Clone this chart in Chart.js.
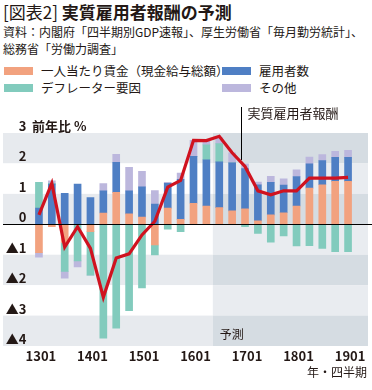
<!DOCTYPE html>
<html>
<head>
<meta charset="utf-8">
<script src="https://cdn.jsdelivr.net/npm/chart.js@4"></script>
<style>
body{margin:0;width:372px;height:390px;background:#fff;position:relative;overflow:hidden;
  font-family:"Noto Sans CJK JP","Noto Sans",sans-serif;color:#231815}
.title{position:absolute;left:3px;top:2px;font-size:17px;line-height:20px;white-space:nowrap}
.title b{font-weight:700}
.src{position:absolute;left:3px;top:23px;font-size:12px;line-height:17px;white-space:nowrap}
.lg{position:absolute;font-size:12.5px;line-height:16px;white-space:nowrap;display:flex;align-items:center}
.lg i{display:inline-block;width:29px;height:8px;margin-right:8px}
#wrap{position:absolute;left:0;top:95px;width:372px;height:295px}
.unit{position:absolute;right:5px;top:364px;font-size:12px;line-height:16px}
</style>
</head>
<body>
<div class="title">[図表2] <b>実質雇用者報酬の予測</b></div>
<div class="src">資料：内閣府「四半期別GDP速報」、厚生労働省「毎月勤労統計」、<br>総務省「労働力調査」</div>
<div class="lg" style="left:4px;top:63px"><i style="background:#f2a27f"></i>一人当たり賃金（現金給与総額）</div>
<div class="lg" style="left:222px;top:63px"><i style="background:#4f7fc4"></i>雇用者数</div>
<div class="lg" style="left:4px;top:80px"><i style="background:#82cbbd"></i>デフレーター要因</div>
<div class="lg" style="left:222px;top:80px"><i style="background:#bcb7dd"></i>その他</div>
<div id="wrap"><canvas id="chart" width="372" height="295"></canvas></div>
<div class="unit">年・四半期</div>
<script>
// quarters, yymm style as on the axis
const quarters = ['1301','1302','1303','1304','1401','1402','1403','1404','1501','1502','1503','1504',
  '1601','1602','1603','1604','1701','1702','1703','1704','1801','1802','1803','1804','1901']

// contributions, % yoy
const wage = [-0.93, -0.08, -0.6, 0, -0.24, 0.37, 1.05, 0.34, 0.24, -0.68, 0.53, 0.16,
  0.69, 0.6, 0.55, 0.44, 0.51, 0.11, 0.31, 0.38, 0.6, 1.19, 1.3, 1.41, 1.41]
const employees = [0.53, 1.32, 1.02, 1.32, 0.88, 0.73, 0.99, 0.76, 0.99, 0.66, 0.82, 1.32,
  1.54, 1.52, 1.5, 1.58, 1.32, 1.19, 1.07, 0.91, 0.97, 0.8, 0.79, 0.79, 0.79]
const deflator = [0.85, 0.03, -0.95, -1.2, -1.43, -3.74, -3.41, -2.84, -2.09, -0.33, -0.16, -0.24,
  0, 0.49, 0.6, 0, -0.08, -0.3, -0.59, -0.38, -0.71, -0.7, -0.79, -0.9, -0.9]
const other = [-0.15, 0.08, -0.22, -0.2, 0, 0.24, 0.26, 0.77, 0.51, 0.45, 0.03, 0.2,
  0.53, 0.13, 0.2, 0.33, 0.16, 0.09, 0.2, 0.2, 0.22, 0.22, 0.2, 0.2, 0.23]
const realComp = [0.31, 1.35, -0.75, -0.08, -0.79, -2.4, -1.11, -0.97, -0.35, 0.1, 1.22, 1.44,
  2.76, 2.75, 2.89, 2.35, 1.9, 1.1, 0.97, 1.1, 1.1, 1.52, 1.52, 1.52, 1.54]

const yMin = -4, yMax = 3
const forecastFrom = 14   // 1603 onward

const font = '"Noto Sans CJK JP", sans-serif'

// background bands, forecast shade, zero line and labels
const decor = {
  id: 'decor',
  beforeDraw(chart) {
    const ctx = chart.ctx
    const x = chart.scales.x, y = chart.scales.y
    const x0 = 3, x1 = 368
    const fx = (x.getPixelForValue(forecastFrom - 1) + x.getPixelForValue(forecastFrom)) / 2
    ctx.save()
    for (let v = yMax; v > yMin; v--) {
      const top = y.getPixelForValue(v), bot = y.getPixelForValue(v - 1)
      const grey = (yMax - v) % 2 === 0
      ctx.fillStyle = grey ? '#e7eaee' : '#ffffff'
      ctx.fillRect(x0, top, fx - x0, bot - top)
      ctx.fillStyle = grey ? '#d5dce2' : '#e9ecf0'
      ctx.fillRect(fx, top, x1 - fx, bot - top)
    }
    ctx.fillStyle = '#231815'
    ctx.font = '12px ' + font
    ctx.textBaseline = 'middle'
    ctx.fillText('予測', fx + 7, y.getPixelForValue(yMin) - 12)
    ctx.font = 'bold 13px ' + font
    ctx.fillText('前年比 %', 32, y.getPixelForValue(yMax) - 7)
    ctx.restore()
  },
  afterDatasetsDraw(chart) {
    const ctx = chart.ctx
    const x = chart.scales.x, y = chart.scales.y
    ctx.save()
    // zero line
    ctx.strokeStyle = '#000'
    ctx.lineWidth = 1
    ctx.beginPath()
    ctx.moveTo(3, Math.round(y.getPixelForValue(0)) + 0.5)
    ctx.lineTo(372, Math.round(y.getPixelForValue(0)) + 0.5)
    ctx.stroke()
    // pointer to the line
    const a = x.getPixelForValue(15), b = x.getPixelForValue(16)
    const lx = Math.round(a + (b - a) * 0.67) + 0.5
    const ly = y.getPixelForValue(realComp[15] + (realComp[16] - realComp[15]) * 0.67)
    ctx.beginPath()
    ctx.moveTo(lx, 12)
    ctx.lineTo(lx, ly - 2)
    ctx.stroke()
    ctx.fillStyle = '#231815'
    ctx.font = '13px ' + font
    ctx.textBaseline = 'middle'
    ctx.fillText('実質雇用者報酬', lx + 6, 18)
    ctx.restore()
  }
}

const barSet = (label, data, color) => ({
  type: 'bar', label: label, data: data, backgroundColor: color,
  stack: 's', barThickness: 7, order: 1
})

new Chart(document.getElementById('chart').getContext('2d'), {
  data: {
    labels: quarters,
    datasets: [
      {
        type: 'line', label: '実質雇用者報酬', data: realComp,
        borderColor: '#d0121f', borderWidth: 3.2, pointRadius: 0,
        tension: 0, order: 0
      },
      barSet('一人当たり賃金（現金給与総額）', wage, '#f2a27f'),
      barSet('雇用者数', employees, '#4f7fc4'),
      barSet('デフレーター要因', deflator, '#82cbbd'),
      barSet('その他', other, '#bcb7dd')
    ]
  },
  options: {
    responsive: false,
    animation: false,
    layout: { padding: { top: 38, right: 17.5, left: 0, bottom: 0 } },
    plugins: { legend: { display: false }, tooltip: { enabled: false } },
    scales: {
      x: {
        stacked: true,
        grid: { display: false, drawTicks: false },
        border: { display: false },
        afterFit: s => { s.height = 44 },
        ticks: {
          autoSkip: false, maxRotation: 0, padding: 2, labelOffset: 2,
          color: '#231815', font: { family: font, size: 13, weight: '600' },
          callback: (v, i) => i % 4 === 0 ? quarters[i] : ''
        }
      },
      y: {
        stacked: true,
        min: yMin, max: yMax,
        grid: { display: false, drawTicks: false },
        border: { display: false },
        afterFit: s => { s.width = 32.5 },
        ticks: {
          stepSize: 1, autoSkip: false, padding: 6, labelOffset: -7,
          color: '#231815', font: { family: font, size: 13, weight: 'bold' },
          callback: v => v < 0 ? '▲' + (-v) : String(v)
        }
      }
    }
  },
  plugins: [decor]
})
</script>
</body>
</html>
